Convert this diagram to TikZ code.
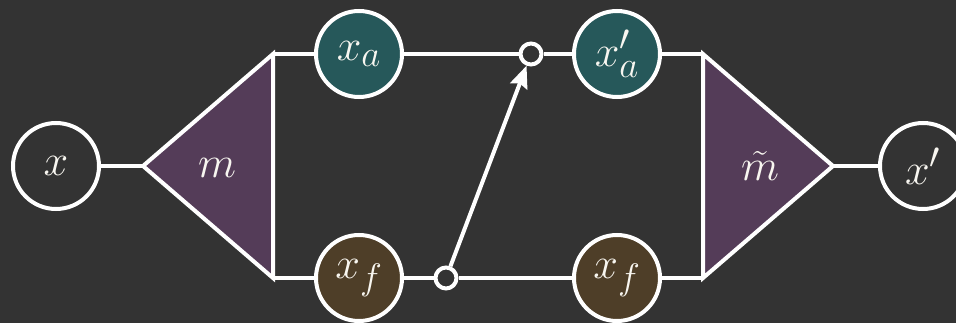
\documentclass[tikz,border=0pt]{standalone}
\usepackage{graphicx}
\usetikzlibrary{arrows.meta}
\definecolor{bgc}{HTML}{333333}
\definecolor{tealc}{RGB}{38,88,90}
\definecolor{brownc}{RGB}{78,62,40}
\definecolor{purplec}{RGB}{84,60,88}
\definecolor{inkc}{RGB}{248,246,240}
\newcommand{\lblmath}[1]{\scalebox{1.78}{\Huge$#1$}}
\begin{document}
\begin{tikzpicture}[x=1pt,y=-1pt,
  line width=4pt, draw=white, color=white,
  bignode/.style={circle, draw=white, line width=4pt, minimum size=86pt, inner sep=0pt,
    text=inkc},
  joint/.style={circle, draw=white, line width=4pt, minimum size=21pt, inner sep=0pt, fill=bgc},
  wire/.style={draw=white, line width=4pt},
  tri/.style={draw=white, fill=purplec, line width=4pt, line join=miter},
  lbl/.style={text=inkc, inner sep=0pt}]
\useasboundingbox[fill=bgc] (0,0) rectangle (956,323);
% triangle corners
\coordinate (mL) at (143,166);
\coordinate (mT) at (273,54);
\coordinate (mB) at (273,278);
\coordinate (nT) at (703,54);
\coordinate (nB) at (703,278);
\coordinate (nR) at (833,166);
% nodes
\node[bignode] (x) at (56,166) {\lblmath{x}};
\node[bignode, fill=tealc] (xa) at (359,54) {\lblmath{x_a}};
\node[bignode, fill=brownc] (xf) at (359,278) {\lblmath{x_f}};
\node[bignode, fill=tealc] (xa2) at (617,54) {\lblmath{x'_a}};
\node[bignode, fill=brownc] (xf2) at (617,278) {\lblmath{x_f}};
\node[bignode] (x2) at (923,166) {\lblmath{x'}};
\node[joint] (st) at (531,54) {};
\node[joint] (sb) at (446,278) {};
% triangles
\draw[tri] (mL) -- (mT) -- (mB) -- cycle;
\draw[tri] (nR) -- (nT) -- (nB) -- cycle;
\node[lbl] (m) at (217,168) {\lblmath{m}};
\node[lbl] (mt) at (760,166) {\lblmath{\tilde m}};
% wires
\draw[wire] (x) -- (mL);
\draw[wire] (mT) -- (xa);
\draw[wire] (xa) -- (st);
\draw[wire] (st) -- (xa2);
\draw[wire] (xa2) -- (nT);
\draw[wire] (mB) -- (xf);
\draw[wire] (xf) -- (sb);
\draw[wire] (sb) -- (xf2);
\draw[wire] (xf2) -- (nB);
\draw[wire] (nR) -- (x2);
\draw[wire, -{Stealth[length=22pt,width=18pt,inset=3pt]}] (sb) -- (st);
\end{tikzpicture}
\end{document}
